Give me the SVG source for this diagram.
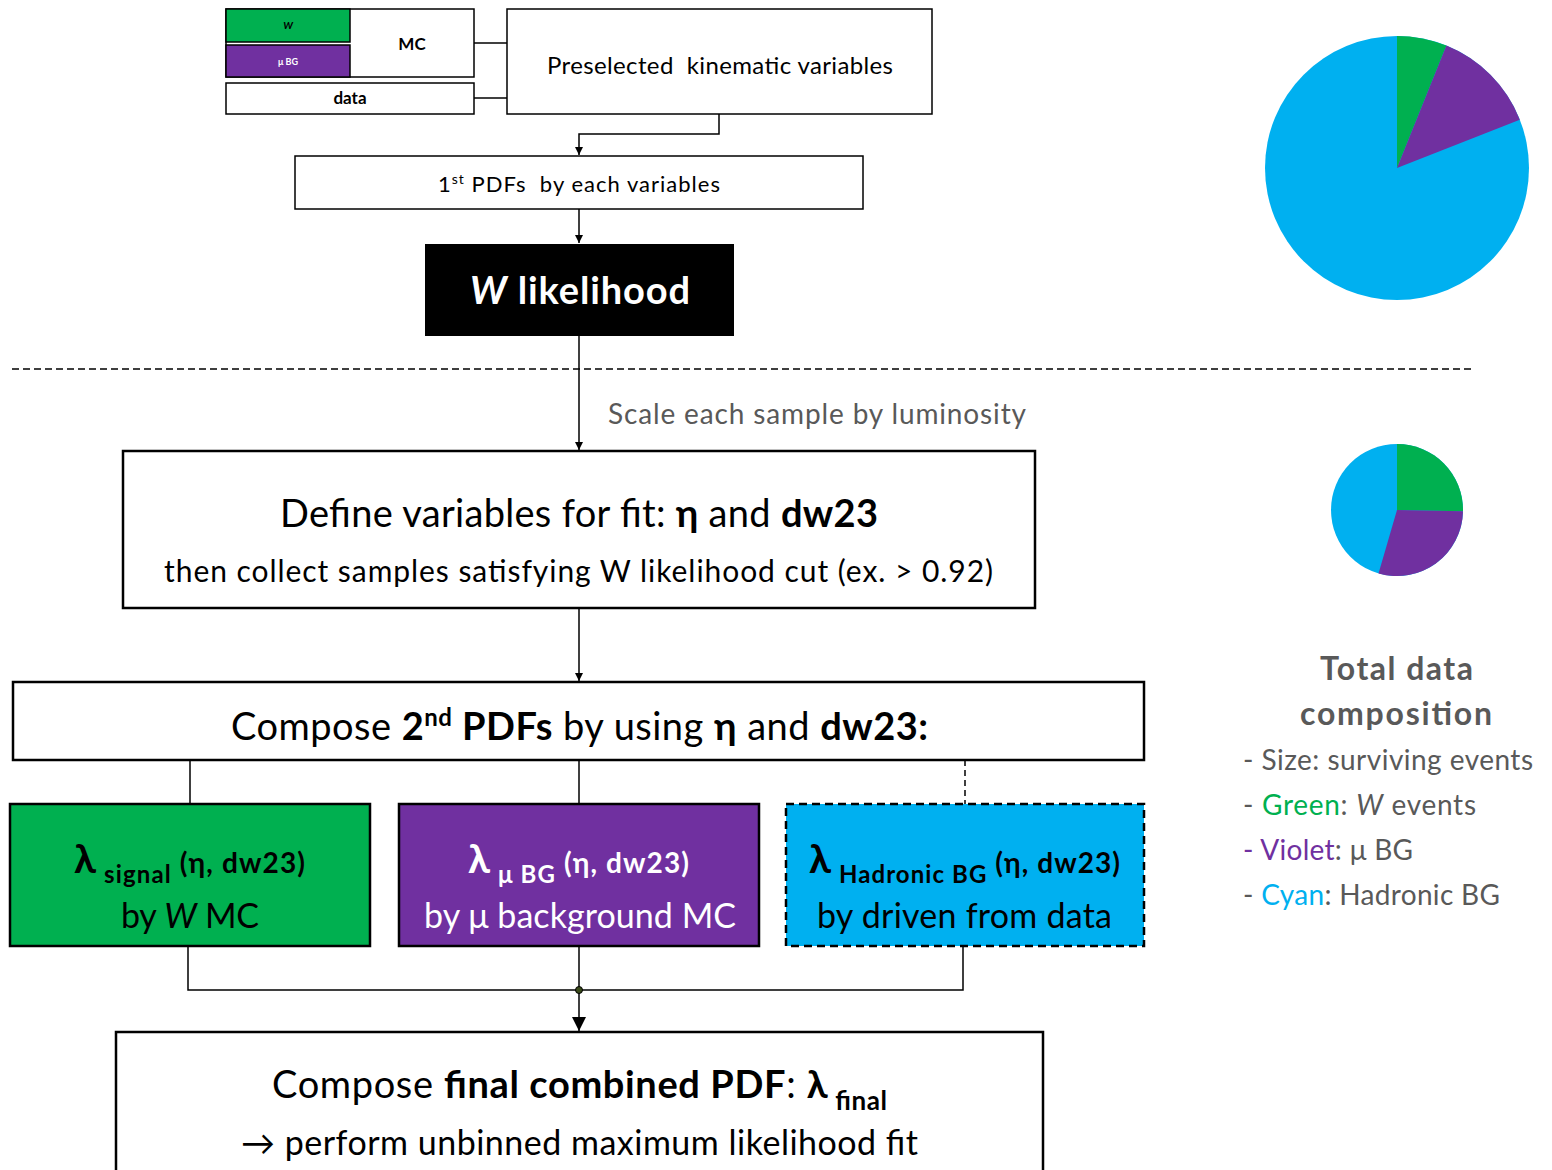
<svg xmlns="http://www.w3.org/2000/svg" width="1552" height="1170" viewBox="0 0 1552 1170">
  <style>
    text { font-family: "Lato", "Open Sans", "Liberation Sans", sans-serif; }
    .box { fill: #ffffff; stroke: #000000; stroke-width: 1.5; }
    .boxb { fill: #ffffff; stroke: #000000; stroke-width: 2.5; }
    .wire { fill: none; stroke: #000000; stroke-width: 1.5; }
    .b { font-weight: bold; }
    .i { font-style: italic; }
    .mid { text-anchor: middle; }
    .gray { fill: #595959; }
  </style>
  <defs>
    <marker id="arr" viewBox="0 0 10 10" refX="10" refY="5" markerWidth="8" markerHeight="8" markerUnits="userSpaceOnUse" orient="auto">
      <path d="M0,0 L10,5 L0,10 z" fill="#000"/>
    </marker>
    <marker id="arrL" viewBox="0 0 10 10" refX="10" refY="5" markerWidth="14" markerHeight="14" markerUnits="userSpaceOnUse" orient="auto">
      <path d="M0,0 L10,5 L0,10 z" fill="#000"/>
    </marker>
  </defs>

  <!-- connectors -->
  <g id="connectors">
    <line class="wire" x1="474" y1="43" x2="507" y2="43"/>
    <line class="wire" x1="474" y1="98" x2="507" y2="98"/>
    <polyline class="wire" points="719,114 719,134 579,134 579,155" marker-end="url(#arr)"/>
    <line class="wire" x1="579" y1="209" x2="579" y2="243" marker-end="url(#arr)"/>
    <line class="wire" x1="579" y1="336" x2="579" y2="450" marker-end="url(#arr)"/>
    <line class="wire" x1="579" y1="608" x2="579" y2="681" marker-end="url(#arr)"/>
    <line class="wire" x1="190" y1="760" x2="190" y2="804"/>
    <line class="wire" x1="579" y1="760" x2="579" y2="804"/>
    <line class="wire" x1="965" y1="760" x2="965" y2="804" stroke-dasharray="6,4"/>
    <polyline class="wire" points="188,946 188,990 963,990 963,946"/>
    <line class="wire" x1="579" y1="946" x2="579" y2="1031" marker-end="url(#arrL)"/>
    <circle cx="579" cy="990" r="3.5" fill="#3a4a1a" stroke="#000" stroke-width="1"/>
    <!-- separator -->
    <line x1="12" y1="369" x2="1472" y2="369" stroke="#000" stroke-width="1.5" stroke-dasharray="7,4"/>
  </g>

  <!-- sample boxes -->
  <g id="mc">
    <rect class="box" x="226" y="9" width="248" height="68"/>
    <text class="b mid" x="412" y="50" font-size="17">MC</text>
  </g>
  <g id="w-sample">
    <rect x="226" y="9" width="124" height="33" fill="#00B050" stroke="#000" stroke-width="1.5"/>
    <text class="i b mid" x="288" y="29" font-size="10">W</text>
  </g>
  <g id="mubg-sample">
    <rect x="226" y="45" width="124" height="32" fill="#7030A0" stroke="#000" stroke-width="1.5"/>
    <text class="b mid" x="288" y="65" font-size="9" fill="#ffffff">μ BG</text>
  </g>
  <g id="data">
    <rect class="box" x="226" y="83" width="248" height="31"/>
    <text class="b mid" x="350" y="104" font-size="17">data</text>
  </g>

  <g id="preselected">
    <rect class="box" x="507" y="9" width="425" height="105"/>
    <text x="547" y="74" font-size="24" textLength="346" xml:space="preserve">Preselected  kinematic variables</text>
  </g>

  <g id="pdf1">
    <rect class="box" x="295" y="156" width="568" height="53"/>
    <text x="438" y="192" font-size="22" textLength="282" xml:space="preserve">1<tspan font-size="14" dy="-8">st</tspan><tspan dy="8"> PDFs  by each variables</tspan></text>
  </g>

  <g id="w-likelihood">
    <rect x="425" y="244" width="309" height="92" fill="#000"/>
    <text x="470" y="304" font-size="38" fill="#fff" class="b" textLength="220"><tspan class="i">W</tspan> likelihood</text>
  </g>

  <text id="scale-label" class="gray" x="608" y="424" font-size="28" textLength="418">Scale each sample by luminosity</text>

  <g id="define">
    <rect class="boxb" x="123" y="451" width="912" height="157"/>
    <text x="280" y="527" font-size="38" textLength="598">Define variables for fit: <tspan class="b">η</tspan> and <tspan class="b">dw23</tspan></text>
    <text x="164" y="582" font-size="30" textLength="829">then collect samples satisfying W likelihood cut (ex. &gt; 0.92)</text>
  </g>

  <g id="compose2">
    <rect class="boxb" x="13" y="682" width="1131" height="78"/>
    <text x="231" y="740" font-size="38" textLength="697">Compose <tspan class="b">2</tspan><tspan class="b" font-size="24" dy="-14">nd</tspan><tspan class="b" dy="14"> PDFs</tspan> by using <tspan class="b">η</tspan> and <tspan class="b">dw23:</tspan></text>
  </g>

  <g id="signal">
    <rect x="10" y="804" width="360" height="142" fill="#00B050" stroke="#000" stroke-width="2.5"/>
    <text x="74" y="873" class="b" textLength="231"><tspan font-size="40">λ</tspan><tspan font-size="24" dy="10"> signal</tspan><tspan font-size="28" dy="-10"> (η, dw23)</tspan></text>
    <text x="121" y="928" font-size="34" textLength="138">by <tspan class="i">W</tspan> MC</text>
  </g>

  <g id="mubg">
    <rect x="399" y="804" width="360" height="142" fill="#7030A0" stroke="#000" stroke-width="2.5"/>
    <text x="468" y="873" class="b" fill="#fff" textLength="221"><tspan font-size="40">λ</tspan><tspan font-size="24" dy="10"> μ BG</tspan><tspan font-size="28" dy="-10"> (η, dw23)</tspan></text>
    <text x="424" y="928" font-size="34" fill="#fff" textLength="312">by μ background MC</text>
  </g>

  <g id="hadronic">
    <rect x="786" y="804" width="358" height="142" fill="#00B0F0" stroke="#000" stroke-width="2.5" stroke-dasharray="8,5"/>
    <text x="809" y="873" class="b" textLength="311"><tspan font-size="40">λ</tspan><tspan font-size="24" dy="10"> Hadronic BG</tspan><tspan font-size="28" dy="-10"> (η, dw23)</tspan></text>
    <text x="817" y="928" font-size="34" textLength="295">by driven from data</text>
  </g>

  <g id="final">
    <rect class="boxb" x="116" y="1032" width="927" height="150"/>
    <text x="272" y="1098" font-size="38" textLength="615">Compose <tspan class="b">final combined PDF</tspan>: <tspan class="b">λ</tspan><tspan class="b" font-size="26" dy="12"> final</tspan></text>
    <text x="241" y="1155" font-size="34" textLength="677">→ perform unbinned maximum likelihood fit</text>
  </g>

  <!-- composition before the cut -->
  <g id="pie-total">
    <circle cx="1397" cy="168" r="132" fill="#00B0F0"/>
    <path d="M1397,168 L1397,36 A132,132 0 0 1 1446.4,45.6 Z" fill="#00B050"/>
    <path d="M1397,168 L1446.4,45.6 A132,132 0 0 1 1519.8,119.7 Z" fill="#7030A0"/>
  </g>

  <!-- composition after the cut -->
  <g id="pie-cut">
    <circle cx="1397" cy="510" r="66" fill="#00B0F0"/>
    <path d="M1397,510 L1397,444 A66,66 0 0 1 1463,511.2 Z" fill="#00B050"/>
    <path d="M1397,510 L1463,511.2 A66,66 0 0 1 1378.5,573.4 Z" fill="#7030A0"/>
  </g>

  <g id="legend" font-size="28" class="gray">
    <text class="b" x="1320" y="680" font-size="32" textLength="153">Total data</text>
    <text class="b" x="1300" y="725" font-size="32" textLength="192">composition</text>
    <text x="1243" y="770" textLength="290">- Size: surviving events</text>
    <text x="1243" y="815" textLength="233">- <tspan fill="#00B050">Green</tspan>: <tspan class="i">W</tspan> events</text>
    <text x="1243" y="860" textLength="170"><tspan fill="#7030A0">- Violet</tspan>: μ BG</text>
    <text x="1243" y="905" textLength="257">- <tspan fill="#00B0F0">Cyan</tspan>: Hadronic BG</text>
  </g>
</svg>
